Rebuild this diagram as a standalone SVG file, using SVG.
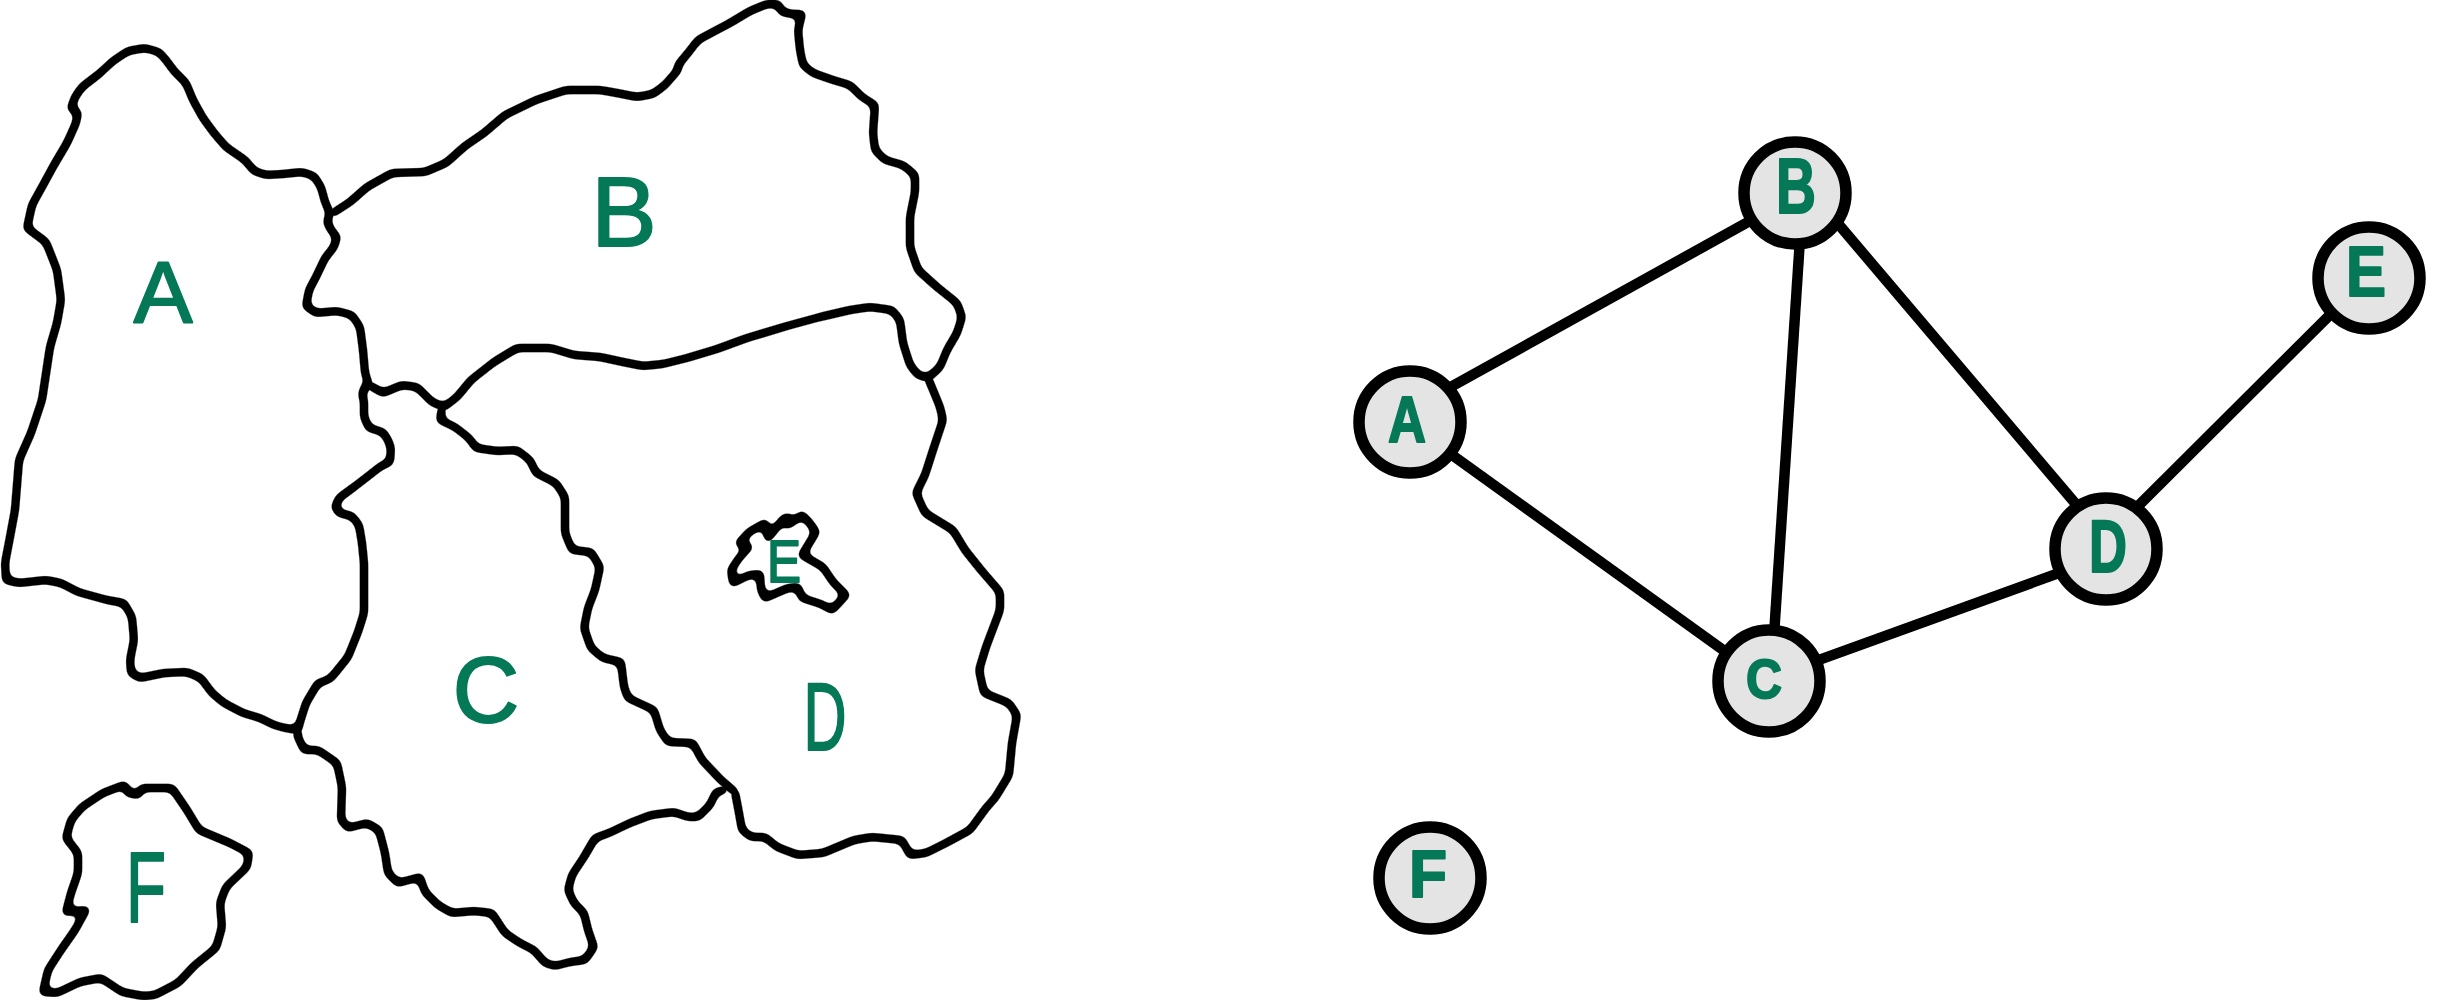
<svg xmlns="http://www.w3.org/2000/svg" width="2439" height="1000" viewBox="0 0 2439 1000">
<defs>
<filter id="soft" filterUnits="userSpaceOnUse" x="0" y="0" width="1100" height="1000">
<feGaussianBlur stdDeviation="3"/>
<feComponentTransfer><feFuncA type="linear" slope="7" intercept="-3"/></feComponentTransfer>
</filter>
</defs>
<style>
.r{fill:none;stroke:#000;stroke-width:8.5;stroke-linejoin:round;stroke-linecap:round}
.e{stroke:#000;stroke-width:10.5;stroke-linecap:butt}
.n{fill:#e4e4e4;stroke:#000;stroke-width:11.5}
.m,.l{font-family:"Liberation Sans",Arial,sans-serif;fill:#047857;text-anchor:middle}
.m{stroke:#047857;stroke-width:2;stroke-linejoin:round}
.l{font-weight:700;stroke:#047857;stroke-width:2;stroke-linejoin:round}
</style>
<rect width="2439" height="1000" fill="#fff"/>
<g id="map">
<g id="region-A">
<polygon class="r" filter="url(#soft)" points="71,108 75,97 82,87 99,74 113,61 128,51 145,48 159,52 166,60 174,71 186,83 193,100 203,118 214,133 226,147 245,160 254,171 266,175 283,174 302,172 314,176 321,187 325,202 330,213 327,222 331,230 337,237 334,247 325,258 316,277 309,290 306,306 316,313 337,311 352,315 360,327 363,350 365,373 369,385 364,388 362,395 364,400 364,417 369,428 383,432 388,440 391,448 390,462 381,466 367,477 354,487 339,498 335,507 339,513 352,516 359,525 362,543 364,563 364,590 364,613 358,632 348,657 331,678 325,681 318,683 306,703 300,722 298,730 285,728 274,725 260,718 243,713 224,703 212,693 201,678 187,672 164,673 140,678 131,673 130,660 134,640 132,617 124,603 107,600 78,592 61,583 46,580 19,583 6,580 5,563 10,537 15,510 19,460 31,433 42,400 50,347 57,323 61,300 57,270 46,242 27,228 32,205 42,187 54,165 67,143 76,123 78,113"/>
<text class="m" x="163" y="323" font-size="88">A</text>
</g>
<g id="region-B">
<polyline class="r" filter="url(#soft)" points="333,213 350,202 367,187 392,173 425,172 446,163 465,146 484,133 505,115 536,100 566,90 600,90 617,93 637,97 653,94 665,85 678,70 678,65 688,53 698,40 713,32 730,23 750,11 767,4 778,4 782,12 792,14 802,14 798,30 800,50 803,65 813,73 833,80 850,85 862,97 875,105 873,133 875,150 885,160 903,165 915,175 915,192 910,217 910,247 918,270 937,287 957,303 962,317 957,333 947,350 940,367 928,378 918,375 910,365 903,343 900,320 892,310 870,307 850,310 820,317 787,326 747,338 717,349 687,358 663,364 643,366 623,362 600,357 574,355 551,348 517,348 494,362 471,380 457,397 444,407 432,402 417,387 402,385 383,393 369,385"/>
<text class="m" x="624" y="246" font-size="98">B</text>
</g>
<g id="region-C">
<polyline class="r" filter="url(#soft)" points="442,408 440,420 455,427 469,438 476,448 497,451 517,450 530,460 536,473 556,483 565,497 565,533 572,550 591,552 600,567 595,590 588,608 584,628 591,648 603,658 621,662 624,687 628,698 654,710 660,730 668,742 693,743 702,760 721,780 735,792"/>
<polyline class="r" filter="url(#soft)" points="724,790 716,792 710,805 698,817 688,817 674,812 651,815 630,823 609,833 595,838 584,857 572,875 568,890 574,903 584,913 588,930 594,947 585,960 570,962 555,966 545,963 534,950 520,943 505,933 492,913 474,911 452,913 438,905 425,892 420,877 398,883 388,873 385,853 379,830 367,823 348,828 341,820 342,787 337,763 318,750 304,750 297,735 298,730"/>
<text class="m" x="486" y="722" font-size="92">C</text>
</g>
<g id="region-D">
<polyline class="r" filter="url(#soft)" points="735,792 739,813 742,830 751,837 765,837 777,847 798,855 823,853 854,840 872,837 902,840 910,855 926,853 946,843 970,830 986,808 995,798 1009,775 1012,743 1017,715 1009,703 984,693 979,670 986,647 1000,610 1000,592 981,570 965,550 953,530 925,513 916,493 925,475 933,450 943,420 940,407 933,390 928,378"/>
<text class="m" x="825" y="750" font-size="96" textLength="43" lengthAdjust="spacingAndGlyphs">D</text>
</g>
<g id="region-E">
<polygon class="r" filter="url(#soft)" points="739,543 749,532 765,523 768,538 784,518 788,517 788,525 802,515 809,522 816,532 802,555 823,567 833,582 846,595 832,610 821,604 802,598 798,587 788,588 765,598 761,590 760,574 749,575 733,583 731,570 739,558 749,547"/>
<text class="m" x="784" y="582" font-size="60" textLength="34" lengthAdjust="spacingAndGlyphs">E</text>
</g>
<g id="region-F">
<polygon class="r" filter="url(#soft)" points="128,790 124,785 103,793 82,807 71,820 66,838 78,853 78,873 71,893 66,912 86,910 75,930 61,950 48,970 43,992 57,993 80,982 101,978 122,992 143,996 155,995 178,983 195,965 216,948 222,927 220,903 226,887 247,867 249,853 230,843 199,830 187,810 172,788 142,788 138,795 128,793"/>
<text class="m" x="146" y="922" font-size="100" textLength="40" lengthAdjust="spacingAndGlyphs">F</text>
</g>
</g>
<g id="connectors">
<line class="e" x1="1409" y1="410" x2="1795" y2="196"/>
<line class="e" x1="1409" y1="424" x2="1769" y2="683"/>
<line class="e" x1="1803" y1="193" x2="1771" y2="681"/>
<line class="e" x1="1812" y1="193" x2="2114" y2="549"/>
<line class="e" x1="1769" y1="678" x2="2106" y2="556"/>
<line class="e" x1="2106" y1="538" x2="2369" y2="276"/>
</g>
<g id="node-A"><circle class="n" cx="1410" cy="422" r="51"/><text class="l" x="1407" y="442" font-size="64" textLength="38" lengthAdjust="spacingAndGlyphs">A</text></g>
<g id="node-B"><circle class="n" cx="1795" cy="193" r="51"/><text class="l" x="1796" y="213" font-size="78" textLength="40" lengthAdjust="spacingAndGlyphs">B</text></g>
<g id="node-C"><circle class="n" cx="1769" cy="681" r="51"/><text class="l" x="1764" y="698" font-size="56" textLength="36" lengthAdjust="spacingAndGlyphs">C</text></g>
<g id="node-D"><circle class="n" cx="2106" cy="549" r="51"/><text class="l" x="2108" y="572" font-size="74" textLength="38" lengthAdjust="spacingAndGlyphs">D</text></g>
<g id="node-E"><circle class="n" cx="2369" cy="278" r="51"/><text class="l" x="2366" y="296" font-size="70" textLength="40" lengthAdjust="spacingAndGlyphs">E</text></g>
<g id="node-F"><circle class="n" cx="1430" cy="878" r="51"/><text class="l" x="1428" y="897" font-size="66" textLength="38" lengthAdjust="spacingAndGlyphs">F</text></g>
</svg>
